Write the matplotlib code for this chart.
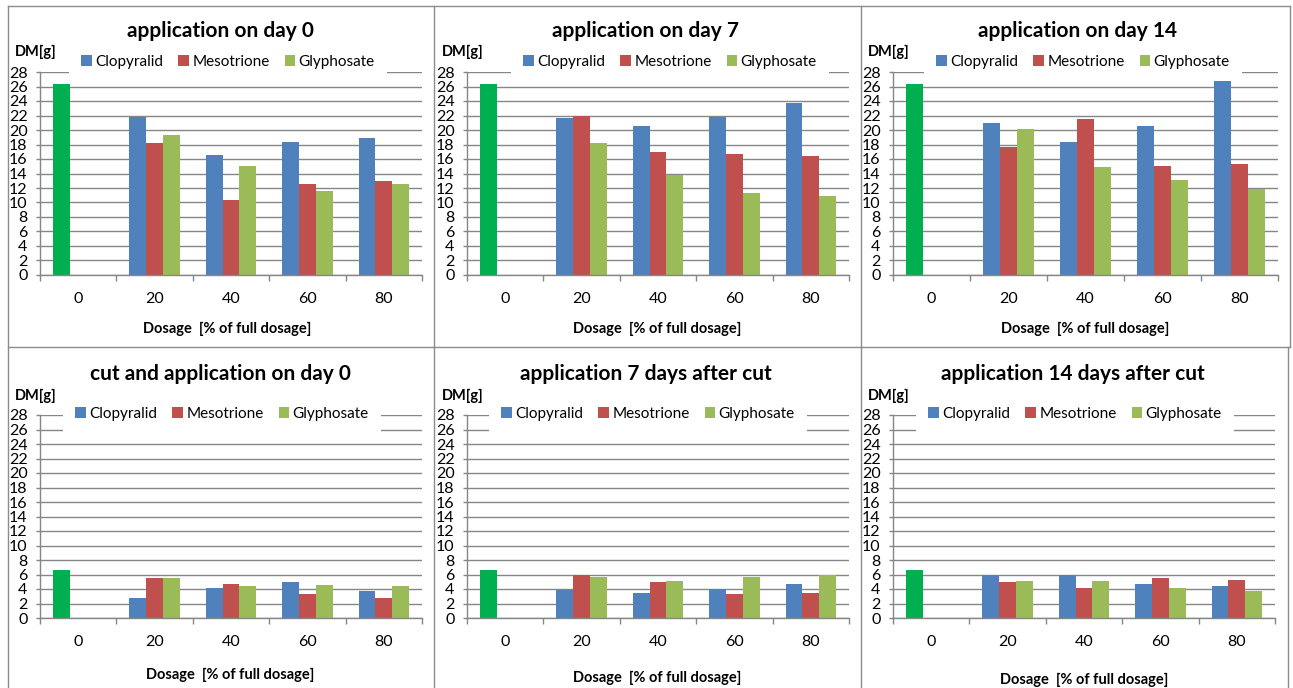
import matplotlib
matplotlib.use("Agg")
import matplotlib.pyplot as plt
from matplotlib.lines import Line2D
import numpy as np

plt.rcParams["font.family"] = ["Lato", "DejaVu Sans"]

# ---- data ----
dosages = ["0", "20", "40", "60", "80"]
titles = [
    "application on day 0",
    "application on day 7",
    "application on day 14",
    "cut and application on day 0",
    "application 7 days after cut",
    "application 14 days after cut",
]
control = [26.3, 26.3, 26.3, 6.6, 6.6, 6.6]
clopyralid = [
    [21.8, 16.5, 18.3, 18.9],
    [21.6, 20.6, 21.8, 23.7],
    [20.9, 18.3, 20.5, 26.9],
    [2.7, 4.2, 5.0, 3.7],
    [3.9, 3.5, 4.0, 4.7],
    [5.9, 6.0, 4.7, 4.4],
]
mesotrione = [
    [18.2, 10.3, 12.6, 12.9],
    [22.0, 17.0, 16.7, 16.4],
    [17.7, 21.5, 15.1, 15.3],
    [5.5, 4.7, 3.3, 2.7],
    [6.0, 4.9, 3.3, 3.5],
    [4.9, 4.2, 5.5, 5.2],
]
glyphosate = [
    [19.3, 15.1, 11.6, 12.6],
    [18.2, 13.8, 11.3, 10.9],
    [20.1, 14.9, 13.1, 11.8],
    [5.5, 4.4, 4.6, 4.4],
    [5.7, 5.1, 5.7, 6.0],
    [5.1, 5.1, 4.2, 3.7],
]

C_CLOP = "#4F81BD"
C_MESO = "#C0504D"
C_GLY = "#9BBB59"
C_CTRL = "#00B050"
GRID = "#868686"

W, H = 1293, 688
fig = plt.figure(figsize=(W / 100, H / 100), dpi=100)


def fx(px):
    return px / W


def fy(py):
    return 1 - py / H


# layout in pixels
ax_left = [40, 467, 893, 40, 467, 893]
ax_right = [422, 849, 1278, 422, 849, 1275]
ax_top = [72, 72, 72, 415, 415, 415]
ax_bot = [275, 275, 275, 618, 618, 618]
title_xy = [(220, 31), (646, 31), (1077, 31), (220, 374), (646, 374), (1073, 374)]
dm_xy = [(15, 52), (442, 52), (868, 52), (15, 396), (442, 396), (868, 396)]
leg_xy = [(228, 62), (670, 62), (1083, 62), (222, 414), (648, 414), (1075, 414)]
xl_xy = [(227, 329), (657, 329), (1085, 329), (230, 675), (657, 678), (1084, 680)]

bw = 0.22
x = np.arange(len(dosages))

for i in range(6):
    l, r, t, b = ax_left[i], ax_right[i], ax_top[i], ax_bot[i]
    ax = fig.add_axes([fx(l), fy(b), (r - l) / W, (b - t) / H])
    ax.set_axisbelow(True)
    ax.bar(x[0] - bw, control[i], bw, color=C_CTRL)
    h1 = ax.bar(x[1:] - bw, clopyralid[i], bw, color=C_CLOP, label="Clopyralid")
    h2 = ax.bar(x[1:], mesotrione[i], bw, color=C_MESO, label="Mesotrione")
    h3 = ax.bar(x[1:] + bw, glyphosate[i], bw, color=C_GLY, label="Glyphosate")

    ax.set_xlim(-0.5, len(dosages) - 0.5)
    ax.set_ylim(0, 28)
    ax.set_yticks(range(0, 29, 2))
    ax.yaxis.grid(True, color=GRID, lw=1)
    ax.tick_params(axis="y", direction="out", length=3, width=1, color=GRID,
                   labelsize=11.5, pad=6)
    ax.set_xticks(np.arange(-0.5, len(dosages)), [""] * (len(dosages) + 1))
    ax.set_xticks(x, dosages, minor=True)
    ax.tick_params(axis="x", which="major", direction="out", length=4, width=1, color=GRID)
    ax.tick_params(axis="x", which="minor", length=0, labelsize=11.5, pad=12)
    for s in ["top", "right"]:
        ax.spines[s].set_visible(False)
    for s in ["left", "bottom"]:
        ax.spines[s].set_color(GRID)
        ax.spines[s].set_linewidth(1)

    ax.legend(handles=[h1, h2, h3], loc="center", ncol=3,
              bbox_to_anchor=(fx(leg_xy[i][0]), fy(leg_xy[i][1])),
              bbox_transform=fig.transFigure, fontsize=11,
              handlelength=0.7, handleheight=0.7, handletextpad=0.2,
              columnspacing=1.0, borderpad=0.8, frameon=True,
              fancybox=False, edgecolor="none", facecolor="white",
              framealpha=1)

    fig.text(fx(title_xy[i][0]), fy(title_xy[i][1]), titles[i], ha="center",
             va="center", fontsize=15, fontweight="bold")
    fig.text(fx(dm_xy[i][0]), fy(dm_xy[i][1]), "DM[g]", ha="left",
             va="center", fontsize=10.5, fontweight="bold")
    fig.text(fx(xl_xy[i][0]), fy(xl_xy[i][1]), "Dosage  [% of full dosage]",
             ha="center", va="center", fontsize=10.5, fontweight="bold")

# panel borders
BORDER = "#8C8C8C"
lines = [
    ((8, 1290), (5.5, 5.5)),
    ((8, 1290), (347.5, 347.5)),
    ((8, 8), (5.5, 688)),
    ((434, 434), (5.5, 688)),
    ((861, 861), (5.5, 688)),
    ((1290, 1290), (5.5, 347.5)),
    ((1288, 1288), (347.5, 688)),
]
for xs, ys in lines:
    fig.add_artist(Line2D([fx(v) for v in xs], [fy(v) for v in ys],
                          transform=fig.transFigure, color=BORDER, lw=1))

fig.savefig("out.png", dpi=100)
